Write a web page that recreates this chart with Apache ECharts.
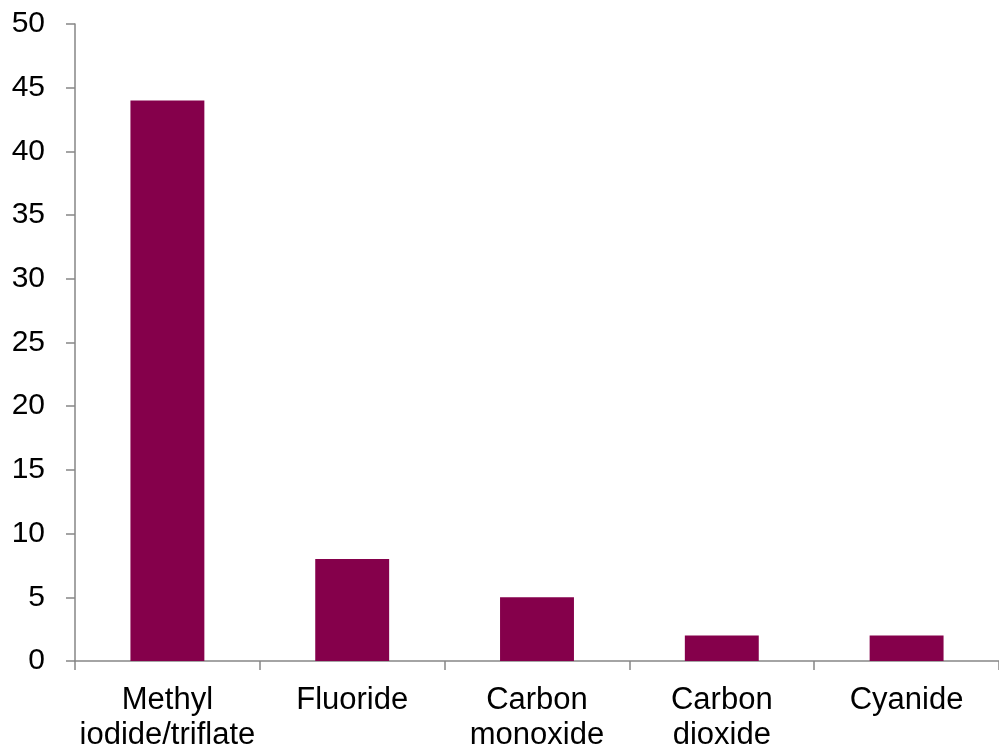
<!DOCTYPE html>
<html>
<head>
<meta charset="utf-8">
<script src="https://cdn.jsdelivr.net/npm/echarts@6/dist/echarts.min.js"></script>
<style>
  html, body { margin: 0; padding: 0; background: #fff; }
  #chart { width: 999px; height: 753px; }
</style>
</head>
<body>
<div id="chart"></div>
<script>
// Tracer categories and counts
const categories = ['Methyl\niodide/triflate', 'Fluoride', 'Carbon\nmonoxide', 'Carbon\ndioxide', 'Cyanide'];
const counts = [44, 8, 5, 2, 2];

const yMin = 0;
const yMax = 50;
const yStep = 5;

const chart = echarts.init(document.getElementById('chart'), null, { renderer: 'canvas' });
const axisGray = '#868686';
const font = '"Liberation Sans", Arial, sans-serif';

chart.setOption({
  animation: false,
  grid: { left: 75, top: 24, width: 928, height: 638, containLabel: false },
  xAxis: {
    type: 'category',
    data: categories,
    axisLine: { lineStyle: { color: axisGray, width: 1.5 } },
    axisTick: { show: true, length: 9, alignWithLabel: false, lineStyle: { color: axisGray, width: 1.5 } },
    axisLabel: {
      color: '#000', fontFamily: font, fontSize: 31, lineHeight: 35,
      margin: 22, interval: 0, align: 'center'
    },
    splitLine: { show: false }
  },
  yAxis: {
    type: 'value',
    min: yMin, max: yMax, interval: yStep,
    axisLine: { show: true, lineStyle: { color: axisGray, width: 1.5 } },
    axisTick: { show: true, length: 9, lineStyle: { color: axisGray, width: 1.5 } },
    axisLabel: { color: '#000', fontFamily: font, fontSize: 30, margin: 30 },
    splitLine: { show: false }
  },
  series: [{
    type: 'bar',
    data: counts,
    barWidth: '40%',
    itemStyle: { color: '#85004B' }
  }]
});
</script>
</body>
</html>
